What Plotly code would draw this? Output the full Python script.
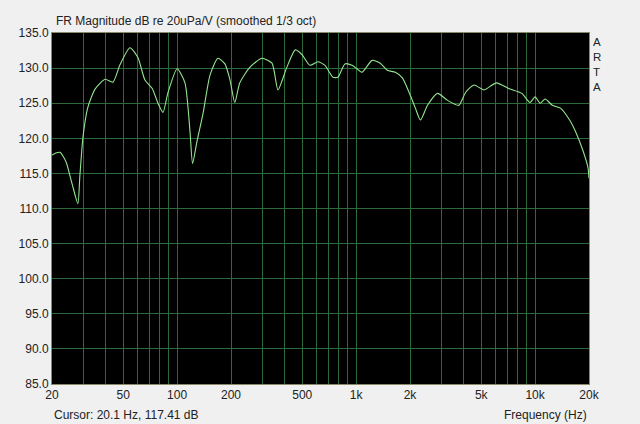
import plotly.graph_objects as go

freq_hz = [20, 21, 22.2, 24, 25.9, 27.9, 28.6, 29.8, 31.7, 34.8, 39.6, 43.8, 48, 54.5,
           60.4, 66.1, 72.6, 78.2, 83.4, 88.9, 100, 110.6, 118, 122, 129, 139.7, 152.7,
           169, 185, 197.5, 210, 224, 254.6, 298, 338.8, 366, 410, 457, 499, 552, 612,
           670, 742, 791, 866, 948, 1011, 1079, 1228, 1364, 1493, 1656, 1813, 2009, 2143,
           2287, 2505, 2850, 3245, 3745, 4103, 4555, 5190, 6075, 7110, 8430, 9360, 9990,
           10670, 11390, 12480, 13850, 15590, 16860, 18470, 19720, 20000]
magnitude_db = [117.6, 117.9, 118.0, 116.6, 113.5, 110.7, 114.5, 120.2, 124.4, 127.0, 128.4,
                128.0, 130.5, 132.9, 131.5, 128.3, 127.1, 125.0, 123.7, 126.5, 129.9, 127.9,
                121.0, 116.4, 119.5, 123.6, 129.0, 131.4, 130.6, 128.3, 125.1, 127.9, 130.1,
                131.4, 130.7, 126.9, 130.1, 132.6, 131.9, 130.4, 130.9, 130.4, 128.7, 128.7,
                130.6, 130.4, 129.9, 129.4, 131.1, 130.7, 129.7, 129.4, 128.6, 126.1, 124.3,
                122.6, 124.7, 126.4, 125.4, 124.7, 126.6, 127.6, 126.9, 127.9, 127.1, 126.4,
                125.1, 125.9, 125.0, 125.6, 124.7, 124.3, 122.6, 120.9, 118.3, 115.9, 114.3]

grid_freqs = [20, 30, 40, 50, 60, 70, 80, 90, 100, 200, 300, 400, 500, 600, 700, 800, 900,
              1000, 2000, 3000, 4000, 5000, 6000, 7000, 8000, 9000, 10000, 20000]
labeled = {20: "20", 50: "50", 100: "100", 200: "200", 500: "500", 1000: "1k",
           2000: "2k", 5000: "5k", 10000: "10k", 20000: "20k"}
grid_text = [labeled.get(f, "") for f in grid_freqs]
db_ticks = [85, 90, 95, 100, 105, 110, 115, 120, 125, 130, 135]
db_text = [f"{v:.1f}" for v in db_ticks]

title_text = "FR Magnitude dB re 20uPa/V (smoothed 1/3 oct)"
cursor_text = "Cursor: 20.1 Hz, 117.41 dB"
xlabel_text = "Frequency (Hz)"
brand_letters = ["A", "R", "T", "A"]

FONT = "Liberation Sans, Arial, sans-serif"
GRID = "#2d6a3a"

fig = go.Figure()
fig.add_trace(go.Scatter(x=freq_hz, y=magnitude_db, mode="lines",
                         line=dict(color="#93e68f", width=1.1, shape="spline", smoothing=0.6),
                         hoverinfo="skip", showlegend=False))

fig.update_layout(
    width=640, height=424,
    margin=dict(l=52, r=51, t=33, b=40),
    paper_bgcolor="#f0f0f0", plot_bgcolor="#000000",
    font=dict(family=FONT, size=12, color="#222222"),
    showlegend=False,
    xaxis=dict(type="log", range=[1.30103, 4.30103], tickmode="array",
               tickvals=grid_freqs, ticktext=grid_text, showgrid=True, gridcolor=GRID,
               gridwidth=1, zeroline=False, ticks="", showline=True, linecolor="#8a8a6a",
               linewidth=1, mirror=True, tickfont=dict(size=12, color="#222222")),
    yaxis=dict(range=[85, 135], tickmode="array", tickvals=db_ticks, ticktext=db_text,
               showgrid=True, gridcolor=GRID, gridwidth=1, zeroline=False, ticks="",
               showline=True, linecolor="#8a8a6a", linewidth=1, mirror=True,
               tickfont=dict(size=12, color="#222222")),
)

ann = []
ann.append(dict(text=title_text, x=0.0, y=1.0, xref="paper", yref="paper",
                xanchor="left", yanchor="bottom", yshift=3, xshift=2, showarrow=False,
                font=dict(size=12, color="#222222")))
ann.append(dict(text=cursor_text, x=0.0, y=0.0, xref="paper", yref="paper",
                xanchor="left", yanchor="top", yshift=-22, xshift=0, showarrow=False,
                font=dict(size=12, color="#222222")))
ann.append(dict(text=xlabel_text, x=1.0, y=0.0, xref="paper", yref="paper",
                xanchor="right", yanchor="top", yshift=-22, xshift=0, showarrow=False,
                font=dict(size=12, color="#222222")))
ann.append(dict(text="<br>".join(brand_letters), x=1.0, y=1.0, xref="paper", yref="paper",
                xanchor="left", yanchor="top", xshift=2, yshift=-1, align="left",
                showarrow=False, font=dict(size=11.5, color="#222222")))
fig.update_layout(annotations=ann)

fig.write_html("out.html", config={"displayModeBar": False},
               post_script="document.body.style.margin='0';")
